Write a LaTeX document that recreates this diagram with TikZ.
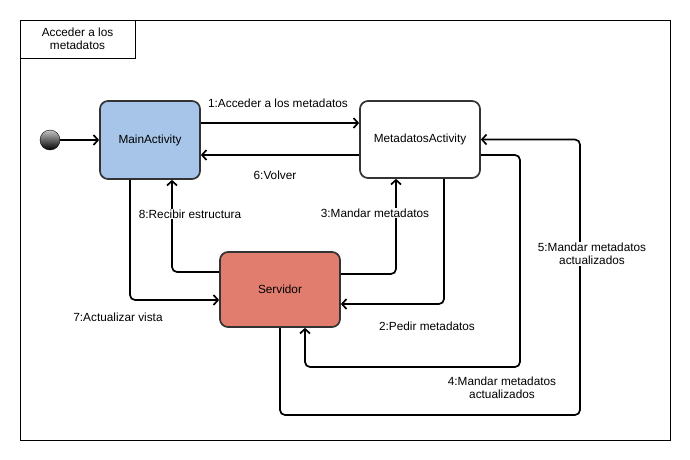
\documentclass[tikz,border=0pt]{standalone}
\usepackage{fontspec}
\setmainfont{Liberation Sans}
\usepackage{xcolor}
\usepackage{tikz}
\usetikzlibrary{arrows,arrows.meta}
\definecolor{mainblue}{RGB}{166,197,233}
\definecolor{servred}{RGB}{224,125,110}
\definecolor{edgegray}{RGB}{51,51,51}
\tikzset{
  BaseNode/.style = {align=center, inner sep=4pt, text centered, font=\fontsize{11.8}{13.5}\selectfont},
  StateNode/.style = {BaseNode, rectangle, rounded corners=8pt, draw=edgegray, line width=1.7pt},
  LabelNode/.style = {BaseNode, inner sep=0pt},
  CutLabel/.style = {LabelNode, fill=white, inner sep=1pt},
  FlowLine/.style = {->, line width=1.7pt, rounded corners=5pt},
}

\begin{document}
\begin{tikzpicture}[x=1pt,y=-1pt,>={Straight Barb[length=4.5pt,width=10pt,line width=1.7pt]}]
    \useasboundingbox (0,0) rectangle (690,460);
    % frame
    \draw[line width=0.9pt] (20,20) rectangle (670,440);
    \draw[line width=0.9pt] (20,58) -| (135,20);
    \node [LabelNode] (title) at (77.5,39) {Acceder a los\\metadatos};
    % states
    \node [circle, draw=black, minimum size=20pt, inner sep=0pt, top color=gray!45, bottom color=black] (start) at (50,140) {};
    \node [StateNode, fill=mainblue, minimum width=100pt, minimum height=78pt] (main) at (150,140) {MainActivity};
    \node [StateNode, fill=white, minimum width=120pt, minimum height=77pt] (meta) at (420,139.5) {MetadatosActivity};
    \node [StateNode, fill=servred, minimum width=120pt, minimum height=75pt] (serv) at (280,289.5) {Servidor};
    % transitions
    \draw [FlowLine] (start) -- (main);
    \draw [FlowLine] ([yshift=17pt]main.east) -- ([yshift=16.5pt]meta.west);
    \draw [FlowLine] ([yshift=-15.5pt]meta.west) -- ([yshift=-15pt]main.east);
    \draw [FlowLine] ([yshift=17.5pt]serv.west) -| ([xshift=22pt]main.south);
    \draw [FlowLine] ([xshift=-20pt]main.south) |- ([yshift=-10.5pt]serv.west);
    \draw [FlowLine] ([yshift=15.5pt]serv.east) -| ([xshift=-24pt]meta.south);
    \draw [FlowLine] ([xshift=24pt]meta.south) |- ([yshift=-14.5pt]serv.east);
    \draw [FlowLine] ([yshift=-15.5pt]meta.east) -| (520,367) -| ([xshift=25pt]serv.south);
    \draw [FlowLine] (serv.south) |- (580,415) |- (meta.east);
    % labels
    \node [LabelNode] (l1) at (278,103) {1:Acceder a los metadatos};
    \node [LabelNode] (l6) at (275,175) {6:Volver};
    \node [CutLabel] (l8) at (190,214) {8:Recibir estructura};
    \node [LabelNode] (l7) at (118,317) {7:Actualizar vista};
    \node [CutLabel] (l3) at (375,213) {3:Mandar metadatos};
    \node [LabelNode] (l2) at (427,326) {2:Pedir metadatos};
    \node [LabelNode] (l4) at (502,388) {4:Mandar metadatos\\actualizados};
    \node [CutLabel] (l5) at (592,254) {5:Mandar metadatos\\actualizados};
\end{tikzpicture}
\end{document}
